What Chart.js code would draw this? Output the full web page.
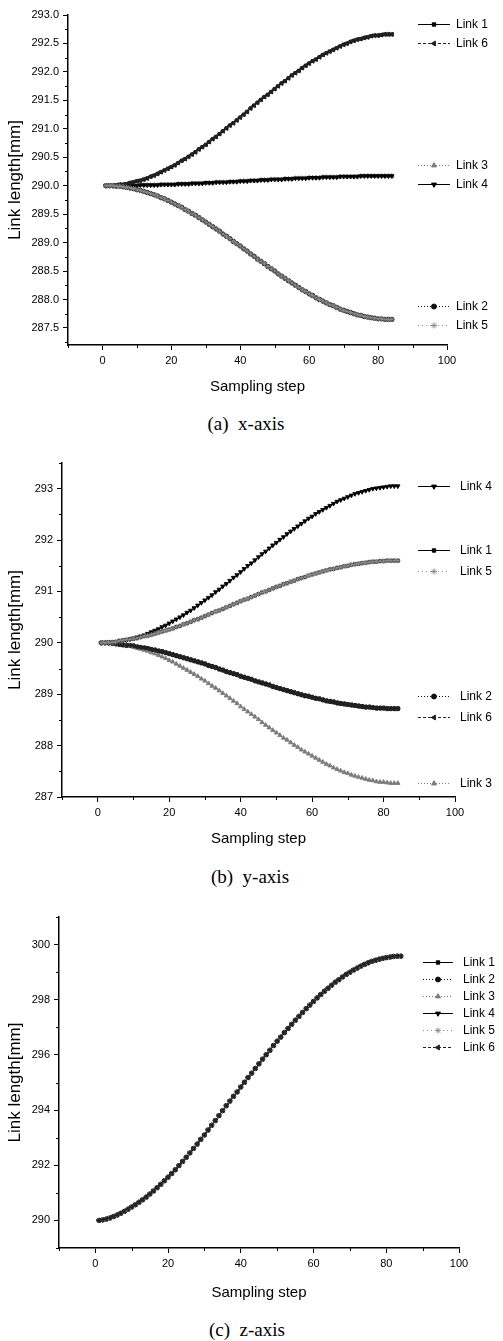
<!DOCTYPE html>
<html>
<head>
<meta charset="utf-8">
<script src="https://cdn.jsdelivr.net/npm/chart.js@4.4.0/dist/chart.umd.min.js"></script>
<style>
html,body{margin:0;padding:0;background:#fff;}
body{width:503px;height:1341px;position:relative;overflow:hidden;}
canvas{position:absolute;left:0;}
.cap{position:absolute;left:0;text-align:center;font-family:"Liberation Serif","Times New Roman",serif;font-size:19px;line-height:22px;white-space:pre;color:#000;}
</style>
</head>
<body>
<canvas id="chartA" width="503" height="400" style="top:0px"></canvas>
<div class="cap" style="top:413px;width:492px">(a)  x-axis</div>
<canvas id="chartB" width="503" height="412" style="top:440px"></canvas>
<div class="cap" style="top:866px;width:500px">(b)  y-axis</div>
<canvas id="chartC" width="503" height="406" style="top:900px"></canvas>
<div class="cap" style="top:1319px;width:494px">(c)  z-axis</div>
<script>
// ---------------- DATA ----------------
const steps = [1,2,3,4,5,6,7,8,9,10,11,12,13,14,15,16,17,18,19,20,21,22,23,24,25,26,27,28,29,30,
31,32,33,34,35,36,37,38,39,40,41,42,43,44,45,46,47,48,49,50,51,52,53,54,55,56,57,58,59,60,
61,62,63,64,65,66,67,68,69,70,71,72,73,74,75,76,77,78,79,80,81,82,83,84];

// (a) x-axis motion
const xLink1and6 = [290.00,290.00,290.00,290.01,290.02,290.02,290.03,290.05,290.06,290.08,
290.09,290.11,290.13,290.16,290.18,290.21,290.24,290.27,290.30,290.33,
290.36,290.40,290.44,290.47,290.51,290.55,290.59,290.64,290.68,290.72,
290.77,290.82,290.86,290.91,290.96,291.01,291.06,291.10,291.15,291.20,
291.25,291.30,291.36,291.41,291.46,291.51,291.56,291.60,291.65,291.70,
291.75,291.80,291.84,291.89,291.94,291.98,292.02,292.07,292.11,292.15,
292.19,292.22,292.26,292.30,292.33,292.36,292.39,292.42,292.45,292.48,
292.50,292.53,292.55,292.57,292.58,292.60,292.61,292.63,292.64,292.64,
292.65,292.66,292.66,292.66];
const xLink3and4 = [290.00,290.00,290.00,290.00,290.00,290.00,290.00,290.00,290.00,290.00,
290.01,290.01,290.01,290.01,290.01,290.01,290.02,290.02,290.02,290.02,
290.02,290.03,290.03,290.03,290.03,290.04,290.04,290.04,290.04,290.05,
290.05,290.05,290.06,290.06,290.06,290.06,290.07,290.07,290.07,290.08,
290.08,290.08,290.09,290.09,290.09,290.10,290.10,290.10,290.11,290.11,
290.11,290.11,290.12,290.12,290.12,290.13,290.13,290.13,290.13,290.14,
290.14,290.14,290.14,290.15,290.15,290.15,290.15,290.15,290.16,290.16,
290.16,290.16,290.16,290.16,290.17,290.17,290.17,290.17,290.17,290.17,
290.17,290.17,290.17,290.17];
const xLink2and5 = [290.00,290.00,290.00,289.99,289.99,289.98,289.97,289.96,289.95,289.93,
289.92,289.90,289.88,289.86,289.84,289.82,289.79,289.77,289.74,289.71,
289.68,289.65,289.62,289.58,289.55,289.51,289.48,289.44,289.40,289.36,
289.32,289.28,289.24,289.20,289.15,289.11,289.07,289.02,288.98,288.94,
288.89,288.85,288.80,288.76,288.71,288.67,288.63,288.58,288.54,288.50,
288.45,288.41,288.37,288.33,288.29,288.25,288.21,288.17,288.14,288.10,
288.07,288.03,288.00,287.97,287.94,287.91,287.89,287.86,287.83,287.81,
287.79,287.77,287.75,287.73,287.72,287.70,287.69,287.68,287.67,287.66,
287.66,287.65,287.65,287.65];

// (b) y-axis motion
const yLink4 = [290.00,290.00,290.00,290.01,290.02,290.03,290.04,290.05,290.07,290.09,
290.11,290.13,290.15,290.18,290.21,290.24,290.27,290.31,290.34,290.38,
290.42,290.46,290.50,290.54,290.59,290.63,290.68,290.73,290.78,290.83,
290.88,290.93,290.99,291.04,291.10,291.15,291.21,291.27,291.32,291.38,
291.44,291.50,291.55,291.61,291.67,291.73,291.78,291.84,291.90,291.95,
292.01,292.06,292.12,292.17,292.22,292.27,292.32,292.37,292.42,292.46,
292.51,292.55,292.59,292.63,292.67,292.71,292.75,292.78,292.81,292.84,
292.87,292.90,292.92,292.94,292.96,292.98,293.00,293.01,293.02,293.03,
293.04,293.05,293.05,293.05];
const yLink1and5 = [290.00,290.00,290.01,290.01,290.02,290.04,290.05,290.06,290.07,290.08,
290.09,290.11,290.13,290.14,290.16,290.18,290.20,290.22,290.24,290.26,
290.28,290.31,290.33,290.36,290.38,290.41,290.44,290.46,290.49,290.52,
290.55,290.58,290.61,290.63,290.66,290.69,290.72,290.75,290.78,290.81,
290.84,290.86,290.89,290.92,290.95,290.98,291.00,291.03,291.06,291.09,
291.11,291.14,291.16,291.19,291.21,291.24,291.26,291.28,291.31,291.33,
291.35,291.37,291.39,291.41,291.43,291.44,291.46,291.47,291.49,291.50,
291.52,291.53,291.54,291.55,291.56,291.57,291.58,291.58,291.59,291.59,
291.60,291.60,291.60,291.60];
const yLink2and6 = [290.00,290.00,290.00,289.99,289.98,289.97,289.96,289.95,289.95,289.94,
289.92,289.91,289.90,289.89,289.87,289.86,289.84,289.83,289.81,289.79,
289.77,289.75,289.73,289.71,289.69,289.67,289.65,289.63,289.61,289.59,
289.56,289.54,289.52,289.49,289.47,289.44,289.42,289.40,289.38,289.35,
289.33,289.31,289.29,289.26,289.24,289.22,289.20,289.18,289.15,289.13,
289.11,289.09,289.07,289.05,289.03,289.01,288.99,288.97,288.96,288.94,
288.92,288.91,288.89,288.87,288.86,288.85,288.83,288.82,288.81,288.80,
288.79,288.78,288.77,288.76,288.75,288.75,288.74,288.73,288.73,288.73,
288.72,288.72,288.72,288.72];
const yLink3 = [290.00,290.00,290.00,289.99,289.98,289.98,289.97,289.95,289.94,289.92,
289.90,289.88,289.86,289.84,289.81,289.79,289.76,289.73,289.70,289.66,
289.63,289.59,289.55,289.51,289.47,289.43,289.39,289.35,289.30,289.26,
289.21,289.16,289.12,289.07,289.02,288.97,288.92,288.87,288.82,288.76,
288.71,288.66,288.61,288.56,288.51,288.45,288.40,288.35,288.30,288.25,
288.20,288.15,288.11,288.06,288.01,287.97,287.92,287.88,287.84,287.80,
287.76,287.72,287.68,287.64,287.61,287.57,287.54,287.51,287.48,287.46,
287.43,287.41,287.39,287.37,287.35,287.33,287.32,287.30,287.29,287.29,
287.28,287.27,287.27,287.27];

// (c) z-axis motion (all six links coincide)
const zAllLinks = [290.00,290.02,290.05,290.09,290.14,290.20,290.26,290.33,290.41,290.49,
290.57,290.66,290.75,290.85,290.96,291.07,291.19,291.31,291.44,291.57,
291.70,291.84,291.99,292.14,292.29,292.45,292.61,292.77,292.94,293.10,
293.28,293.45,293.62,293.80,293.98,294.16,294.33,294.50,294.66,294.84,
295.01,295.18,295.34,295.51,295.68,295.85,296.01,296.17,296.34,296.50,
296.65,296.81,296.96,297.11,297.26,297.40,297.54,297.68,297.81,297.94,
298.07,298.19,298.31,298.42,298.53,298.64,298.73,298.83,298.92,299.00,
299.08,299.15,299.22,299.28,299.34,299.39,299.43,299.47,299.50,299.53,
299.55,299.57,299.58,299.58];

const linkNames = ['Link 1','Link 2','Link 3','Link 4','Link 5','Link 6'];

// ticks
const xMajorTicks = [0,20,40,60,80,100];
const xMinorTicks = [-10,10,30,50,70,90];
const aYMajorTicks = [287.5,288.0,288.5,289.0,289.5,290.0,290.5,291.0,291.5,292.0,292.5,293.0];
const aYMinorTicks = [287.25,287.75,288.25,288.75,289.25,289.75,290.25,290.75,291.25,291.75,292.25,292.75];
const bYMajorTicks = [287,288,289,290,291,292,293];
const bYMinorTicks = [287.5,288.5,289.5,290.5,291.5,292.5,293.5];
const cYMajorTicks = [290,292,294,296,298,300];
const cYMinorTicks = [289,291,293,295,297,299,301];

// ---------------- STYLE ----------------
const FONT = '"Liberation Sans", Arial, Helvetica, sans-serif';
Chart.defaults.font.family = FONT;
Chart.defaults.color = '#000';

const LINK_STYLE = [
  {color:'#000000', fill:'#000000', dash:[],    ps:'rect',     rot:0,   r:2.1, order:6},
  {color:'#111111', fill:'#111111', dash:[1,2], ps:'circle',   rot:0,   r:2.2, order:5},
  {color:'#7a7a7a', fill:'#7a7a7a', dash:[1,2], ps:'triangle', rot:0,   r:2.5, order:4},
  {color:'#000000', fill:'#000000', dash:[],    ps:'triangle', rot:180, r:2.5, order:3},
  {color:'#8e8e8e', fill:'#b5b5b5', dash:[1,3], ps:'star',     rot:0,   r:2.7, order:1},
  {color:'#222222', fill:'#222222', dash:[3,2], ps:'triangle', rot:-90, r:2.5, order:2}
];

function near(list, v) { return list.some(t => Math.abs(t - v) < 1e-6); }

function buildChart(P) {
  const datasets = linkNames.map((name, i) => {
    const st = LINK_STYLE[i];
    return {
      label: name,
      data: steps.map((s, k) => ({x: s, y: P.series[i][k]})),
      borderColor: st.color, backgroundColor: st.fill,
      borderWidth: 1, borderDash: st.dash,
      pointStyle: st.ps, rotation: st.rot,
      pointRadius: st.r, pointHoverRadius: st.r,
      pointBorderWidth: 0.9, pointBorderColor: st.color, pointBackgroundColor: st.fill,
      order: P.order ? P.order[i] : st.order,
      showLine: true, tension: 0, fill: false, clip: false
    };
  });

  const legendPlugin = {
    id: 'sideLegend' + P.key,
    afterDraw(chart) {
      const ctx = chart.ctx, ys = chart.scales.y, L = P.legend;
      ctx.save();
      ctx.font = '12px ' + FONT;
      ctx.textBaseline = 'middle';
      ctx.textAlign = 'left';
      L.groups.forEach(g => {
        const d0 = chart.data.datasets[g.items[0]].data;
        const y0 = ys.getPixelForValue(d0[d0.length - 1].y) + g.dy;
        g.items.forEach((idx, j) => {
          const yy = Math.round(y0 + j * L.spacing) + 0.5;
          const st = LINK_STYLE[idx];
          ctx.save();
          ctx.strokeStyle = st.color; ctx.lineWidth = 1; ctx.setLineDash(st.dash);
          ctx.beginPath(); ctx.moveTo(L.x0, yy); ctx.lineTo(L.x1, yy); ctx.stroke();
          ctx.setLineDash([]);
          ctx.fillStyle = st.fill; ctx.strokeStyle = st.color; ctx.lineWidth = 1;
          const mx = (L.x0 + L.x1) / 2;
          if (Chart.helpers && Chart.helpers.drawPoint) {
            Chart.helpers.drawPoint(ctx, {pointStyle: st.ps, rotation: st.rot, radius: st.r + 0.3, borderWidth: 1}, mx, yy);
          } else {
            ctx.fillRect(mx - 2, yy - 2, 4, 4);
          }
          ctx.restore();
          ctx.fillStyle = '#000';
          ctx.fillText(linkNames[idx], L.tx, yy);
        });
      });
      ctx.restore();
    }
  };

  const minorPlugin = {
    id: 'minorTicks' + P.key,
    afterDraw(chart) {
      const ctx = chart.ctx, xs = chart.scales.x, ys = chart.scales.y, a = chart.chartArea;
      ctx.save();
      ctx.strokeStyle = '#000'; ctx.lineWidth = 1;
      ctx.beginPath();
      P.xMinor.forEach(v => { const px = Math.round(xs.getPixelForValue(v)) + 0.5; ctx.moveTo(px, a.bottom); ctx.lineTo(px, a.bottom + 3); });
      P.yMinor.forEach(v => { const py = Math.round(ys.getPixelForValue(v)) + 0.5; ctx.moveTo(a.left, py); ctx.lineTo(a.left - 3, py); });
      ctx.stroke();
      ctx.restore();
    }
  };

  const canvas = document.getElementById(P.canvas);
  const H = canvas.height;
  return new Chart(canvas, {
    type: 'line',
    data: {datasets},
    options: {
      responsive: false, animation: false, devicePixelRatio: 1,
      layout: {padding: {left: 0, right: 503 - P.right, top: P.top, bottom: 0}},
      plugins: {legend: {display: false}, tooltip: {enabled: false}},
      scales: {
        x: {
          type: 'linear', min: -10, max: 100,
          afterBuildTicks: s => { s.ticks = xMajorTicks.map(v => ({value: v})); },
          afterFit: s => { s.height = H - P.bottom; },
          ticks: {autoSkip: false, maxRotation: 0, padding: 4, font: {size: 11}, color: '#000',
                  callback: v => near(xMajorTicks, v) ? String(v) : ''},
          grid: {display: true, drawOnChartArea: false, drawTicks: true, tickLength: 5, color: '#000', lineWidth: 1},
          border: {display: true, color: '#000', width: 1.5},
          title: {display: true, text: 'Sampling step', font: {size: 15}, color: '#000', padding: {top: 0, bottom: 4}}
        },
        y: {
          type: 'linear', min: P.yMin, max: P.yMax,
          afterBuildTicks: s => { s.ticks = P.yMajor.map(v => ({value: v})); },
          afterFit: s => { s.width = P.left; },
          ticks: {autoSkip: false, padding: 4, font: {size: 11}, color: '#000',
                  callback: v => near(P.yMajor, v) ? v.toFixed(P.dec) : ''},
          grid: {display: true, drawOnChartArea: false, drawTicks: true, tickLength: 5, color: '#000', lineWidth: 1},
          border: {display: true, color: '#000', width: 1.5},
          title: {display: true, text: 'Link length[mm]', font: {size: 17}, color: '#000', padding: {top: 5, bottom: 0}}
        }
      }
    },
    plugins: [minorPlugin, legendPlugin]
  });
}

buildChart({
  key: 'A', canvas: 'chartA', left: 68, right: 447, top: 15, bottom: 345,
  yMin: 287.2, yMax: 293.0, yMajor: aYMajorTicks, yMinor: aYMinorTicks, xMinor: xMinorTicks, dec: 1,
  series: [xLink1and6, xLink2and5, xLink3and4, xLink3and4, xLink2and5, xLink1and6],
  legend: {x0: 418, x1: 450, tx: 456, spacing: 19,
           groups: [{items: [0, 5], dy: -10}, {items: [2, 3], dy: -11}, {items: [1, 4], dy: -13}]}
});

buildChart({
  key: 'B', canvas: 'chartB', left: 62, right: 455, top: 23, bottom: 357,
  yMin: 287, yMax: 293.5, yMajor: bYMajorTicks, yMinor: bYMinorTicks, xMinor: xMinorTicks, dec: 0,
  series: [yLink1and5, yLink2and6, yLink3, yLink4, yLink1and5, yLink2and6],
  legend: {x0: 418, x1: 450, tx: 460, spacing: 21,
           groups: [{items: [3], dy: 0}, {items: [0, 4], dy: -11}, {items: [1, 5], dy: -13}, {items: [2], dy: 0}]}
});

buildChart({
  key: 'C', canvas: 'chartC', left: 59, right: 459, top: 17, bottom: 348,
  yMin: 289, yMax: 301, yMajor: cYMajorTicks, yMinor: cYMinorTicks, xMinor: xMinorTicks, dec: 0,
  order: [6, 3, 5, 4, 2, 1],
  series: [zAllLinks, zAllLinks, zAllLinks, zAllLinks, zAllLinks, zAllLinks],
  legend: {x0: 423, x1: 453, tx: 463, spacing: 17,
           groups: [{items: [0, 1, 2, 3, 4, 5], dy: 6}]}
});
</script>
</body>
</html>
